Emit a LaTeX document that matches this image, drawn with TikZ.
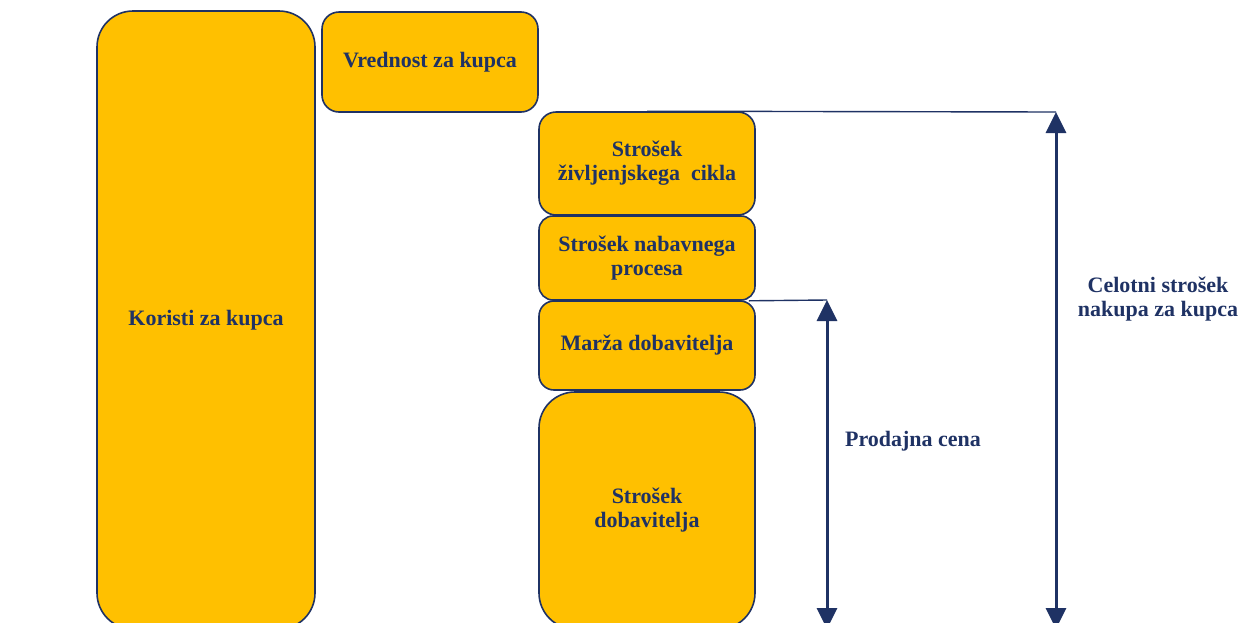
\documentclass[tikz,border=0pt]{standalone}
\usepackage{fontspec}
\setmainfont{Liberation Serif}
\usetikzlibrary{arrows.meta,calc}
\definecolor{navy}{RGB}{31,50,100}
\definecolor{gold}{RGB}{255,192,0}
\begin{document}
\begin{tikzpicture}[x=1pt,y=-1pt,
  txt/.style={font=\fontsize{22}{24}\selectfont\bfseries, text=navy, align=center},
  block/.style={txt, draw=navy, fill=gold, line width=1.6pt, inner sep=0pt},
  guide/.style={draw=navy, line width=1.4pt},
  dim/.style={draw=navy, line width=3pt,
    {Triangle[width=20pt,length=21pt]}-{Triangle[width=20pt,length=21pt]}}]
\useasboundingbox (0,0) rectangle (1250,622);
\clip (0,0) rectangle (1250,622);

% benefit and value columns
\node[block, minimum width=218pt, minimum height=618pt, rounded corners=36pt]
  (koristi) at (206,320) {Koristi za kupca};
\node[block, minimum width=216pt, minimum height=100pt, rounded corners=17pt]
  (vrednost) at (430,62) {Vrednost za kupca};

% cost stack
\node[block, minimum width=216pt, minimum height=103pt, rounded corners=17pt]
  (zivl) at (647,163.5) {Strošek\\življenjskega\ \ cikla};
\node[block, minimum width=216pt, minimum height=84pt, rounded corners=14pt]
  (nabav) at (647,258) {Strošek nabavnega\\procesa};
\node[block, minimum width=216pt, minimum height=89pt, rounded corners=15pt]
  (marza) at (647,345.5) {Marža dobavitelja};
\node[block, minimum width=216pt, minimum height=237pt, rounded corners=36pt]
  (dobav) at (647,510.5) {Strošek\\dobavitelja};

% dimension lines
\coordinate (ctop) at (1056,112);
\coordinate (cbot) at (1056,629);
\coordinate (ptop) at (827,300);
\coordinate (pbot) at (827,629);
\draw[guide] (zivl.north) -- (ctop);
\draw[guide] ($(nabav.south east)+(-7,0)$) -- (ptop);
\draw[dim] (ctop) -- (cbot);
\draw[dim] (ptop) -- (pbot);

\node[txt] (prodajna) at (913,441) {Prodajna cena};
\node[txt] (celotni) at (1158,299) {Celotni strošek\\nakupa za kupca};
\end{tikzpicture}
\end{document}
